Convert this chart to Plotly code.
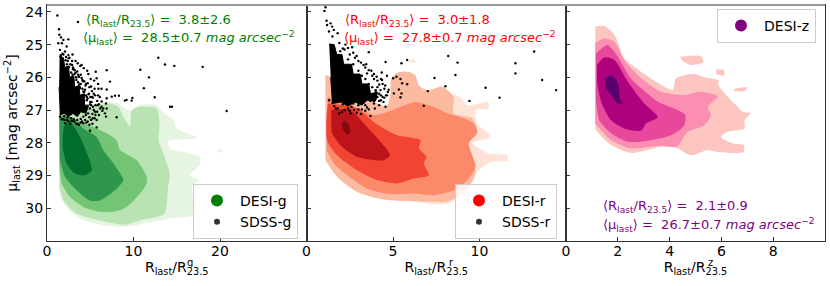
import plotly.graph_objects as go

# ---------- green panel (R_last/R_23.5^g, mu_last) ----------
g1_x = [1.43,4,7.3,8.3,9.3,9.9,10.6,12.7,13.6,14.6,15.0,15.6,17.3,14.0,14.3,16.1,17.7,17.7,16.5,17.7,16.8,17.0,14.6,13.6,11.5,9.0,6.1,4.6,2.9,1.7,1.43,None,19.7,20.2,20.2,19.7]
g1_y = [26.9,26.85,26.75,26.8,27.0,27.0,26.85,26.85,27.1,27.3,27.55,27.65,27.85,27.95,28.2,28.3,28.45,28.65,29.0,29.15,29.3,30.2,30.3,30.35,30.45,30.57,30.5,30.4,30.15,29.75,29.4,None,28.27,28.15,28.28,28.3]
g2_x = [1.43,4.5,7.0,8.25,8.8,9.6,9.8,10.6,12.7,13.0,12.9,13.45,14.2,14.0,13.6,12.7,10.75,9.0,6.1,3.4,1.9,1.43]
g2_y = [26.95,26.95,26.8,26.9,27.2,27.5,27.0,26.9,26.95,27.5,27.92,28.33,28.94,29.35,30.16,30.27,30.37,30.5,30.37,30.16,29.76,29.35]
g3_x = [1.43,3.43,5.74,6.9,8.05,8.44,10.37,11.52,11.52,10.75,9.21,7.67,6.13,4.2,2.66,1.7,1.43]
g3_y = [27.15,27.3,27.56,27.71,27.92,28.22,28.53,29.04,29.24,29.55,29.96,30.11,30.11,29.96,29.65,29.24,28.74]
g4_x = [1.43,2.47,4.2,5.74,6.5,7.67,8.82,8.05,6.13,4.97,3.43,2.08,1.5]
g4_y = [27.2,27.2,27.56,27.82,28.22,28.63,29.14,29.4,29.76,29.76,29.45,29.04,28.53]
g5_x = [2.08,2.85,3.82,4.78,5.16,4.4,3.25,2.27,1.81,1.89]
g5_y = [27.41,27.43,27.82,28.43,28.84,28.99,28.94,28.63,28.12,27.61]
g_dense_x = [1.46,1.9,2.05,2.5,2.6,3.1,3.2,3.7,3.8,4.3,4.35,4.8,4.5,3.9,3.5,3.0,2.5,2.0,1.54,1.4]
g_dense_y = [25.35,25.4,25.7,25.65,26.0,25.95,26.3,26.25,26.55,26.5,26.85,26.85,27.1,27.05,27.2,27.1,27.2,27.1,27.15,26.3]
sdss_g_x = [1.2,3.58,1.39,1.43,1.62,1.89,2.47,1.31,1.73,2.27,1.5,2.08,2.47,3.55,4.0,5.63,6.9,5.74,4.78,7.28,12.87,13.64,14.72,18.0,10.79,11.79,11.2,12.45,14.22,14.45,20.77,
            9.87,9.79,9.2,9.0,7.86,7.48,8.32,6.9,6.9,6.32,6.82,6.5,6.9,6.7,8.05,6.82,5.74,5.74,4.97,6.0,
            1.6,1.9,2.2,2.5,2.9,3.1,1.8,2.4,3.3,3.7,4.1,4.5,3.0,3.5,3.9,4.3,4.9,5.2,5.5,5.9,6.1,3.2,3.6,4.0,4.7,5.1,5.4,5.8,6.3,
            4.4,4.8,5.3,5.6,6.0,6.4,3.8,4.2,4.6,5.0,5.4,5.8,2.0,2.5,3.0,3.4,3.9,4.4,4.9,5.3,1.7,2.1,2.7,3.2,3.7,4.2,4.7,
            2.6,2.9,3.0,2.7,3.2,3.4,3.6,3.9,4.1,4.3,4.5,4.7,4.85,5.0,5.15,5.3,4.95,4.75,4.5,4.2,3.9,3.5,3.1,2.8,2.4,2.0,1.6,1.5,
            1.55,1.7,2.3,2.8,3.4,3.8,4.2,4.6,5.0,5.25,5.6,4.45,4.15,3.75,3.35,2.95,2.55,2.15,
            5.9,5.45,5.05,4.65,4.25,3.85,3.3,2.95,5.2,5.55,5.85,5.95,6.3,6.15,5.5,5.1,4.55,4.05,3.55,2.85,2.3,1.85,4.9,5.25,5.55,4.65,5.1]
sdss_g_y = [24.11,24.31,24.53,24.7,24.78,24.86,24.84,24.96,24.96,25.06,25.16,25.21,25.32,25.57,25.62,25.83,25.78,26.03,25.9,26.13,25.4,25.61,25.65,25.68,25.77,26.0,26.33,26.61,26.9,26.9,27.03,
            26.63,26.71,26.69,26.71,26.56,26.59,26.56,26.37,26.64,26.74,26.8,26.95,26.95,27.1,27.22,27.2,27.3,27.53,27.63,27.15,
            25.32,25.3,25.38,25.42,25.62,25.75,25.28,25.5,25.86,25.98,26.08,26.2,25.7,25.82,25.92,26.12,26.3,26.42,26.35,26.55,26.6,25.78,25.92,26.02,26.18,26.28,26.5,26.72,26.9,
            26.38,26.52,26.62,26.85,26.82,27.02,26.3,26.55,26.7,26.75,27.0,27.05,27.3,27.35,27.33,27.42,27.38,27.3,27.22,27.25,27.28,27.4,27.42,27.35,27.45,27.4,27.35,
            25.4,25.5,25.75,25.6,25.9,26.0,26.15,26.2,26.35,26.45,26.55,26.65,26.5,26.6,26.75,26.9,26.95,27.1,27.15,27.2,27.27,27.3,27.28,27.25,27.22,27.18,27.12,27.2,
            25.36,25.42,25.6,25.85,26.08,26.33,26.43,26.6,26.82,27.12,27.15,26.25,26.12,26.22,26.0,25.92,25.68,25.48,
            26.2,26.1,26.05,25.8,25.72,25.65,25.5,25.3,26.6,26.55,26.85,26.35,26.35,26.95,27.25,27.3,27.38,27.35,27.42,27.33,27.3,27.27,27.45,27.42,27.05,26.9,26.85]

# ---------- red panel ----------
r1_x = [1.1,2,4.6,4.85,4.9,5.3,6.0,6.3,6.5,7.0,8.0,8.32,8.9,9.3,10.5,10.5,9.8,9.87,10.64,9.6,10.54,11.6,11.6,10.6,9.77,9.4,8.7,8.13,7.36,6.4,4.47,2.93,1.77,1.1,None,5.9,6.1,6.4]
r1_y = [25.93,26.1,26.9,26.5,26.05,25.85,25.85,25.95,26.25,26.4,26.45,26.49,26.6,26.85,26.75,26.95,27.0,27.4,27.82,28.0,28.33,28.38,28.55,28.6,28.94,29.35,29.7,29.86,29.88,29.8,29.73,29.5,29.04,28.53,None,25.55,25.45,25.55]
r2_x = [1.1,2,4.6,4.85,4.9,5.3,6.0,6.3,6.5,7.0,7.84,8.5,8.5,9.58,9.77,9.29,9.48,9.77,9.38,8.7,8.13,7.36,6.4,4.47,2.93,1.77,1.1]
r2_y = [25.93,26.1,26.9,26.5,26.05,25.85,25.85,25.95,26.25,26.4,26.28,26.6,27.1,27.25,27.5,27.82,28.22,28.94,29.35,29.65,29.8,29.8,29.79,29.73,29.5,29.04,28.53]
r3_x = [1.23,3.03,3.89,4.47,5.43,6.3,7.36,8.13,9.1,9.77,9.86,9.38,9.77,9.29,8.52,7.36,6.2,4.86,3.5,2.35,1.58,1.16]
r3_y = [26.6,26.95,27.15,27.1,26.9,26.75,26.9,27.1,27.25,27.46,27.71,28.02,28.73,29.14,29.45,29.6,29.55,29.57,29.4,28.99,28.63,28.22]
r4_x = [1.23,2.93,4.0,5.24,6.0,6.59,6.5,6.94,6.78,7.07,6.2,5.24,4.08,2.93,1.77,1.19,1.16]
r4_y = [26.8,26.95,27.41,27.77,27.84,27.92,28.17,28.43,28.63,28.99,29.09,29.24,29.14,28.84,28.38,27.92,27.2]
r5_x = [1.43,2.54,3.31,4.28,4.82,4.47,2.93,2.06,1.48,1.43]
r5_y = [27.0,27.0,27.41,27.97,28.38,28.53,28.43,28.12,27.71,27.3]
r6_x = [2.25,2.45,2.54,2.35,2.12,2.02]
r6_y = [27.31,27.46,27.69,27.74,27.61,27.41]
r_dense_x = [1.31,1.6,1.75,2.05,2.15,2.6,2.7,3.1,3.2,3.6,3.7,4.1,4.0,3.5,3.2,2.8,2.4,2.0,1.5,1.4]
r_dense_y = [24.98,25.0,25.3,25.3,25.6,25.6,25.9,25.9,26.2,26.2,26.5,26.45,26.72,26.7,26.85,26.75,26.88,26.75,26.8,26.0]
sdss_r_x = [1.1,1.04,1.16,1.19,1.39,1.48,1.58,1.3,1.5,1.8,1.9,13.16,12.08,12.08,13.62,14.43,11.16,10.35,9.42,8.73,8.19,8.61,8.03,7.4,7.01,6.78,5.82,5.49,4.57,3.6,2.64,5.01,5.2,5.43,5.53,5.82,5.34,5.49,5.05,5.43,4.57,4.37,4.28,3.7,
            2.2,2.5,2.8,3.0,3.3,3.6,3.9,2.4,2.7,3.4,3.8,4.1,4.4,3.5,3.9,4.2,4.5,4.7,4.3,4.0,3.7,3.3,3.0,2.6,2.2,1.8,1.5,4.1,4.5,4.2,3.9,3.5,3.2,2.9,2.5,2.1,1.6,1.3,1.9,2.3,2.7,3.1,3.4,4.4,4.6,4.0,3.6,
            2.4,2.7,3.0,3.2,3.4,3.6,3.8,4.0,4.2,4.3,4.1,3.9,3.6,3.3,3.0,2.7,2.4,2.1,1.8,1.55,
            2.9,3.15,3.45,3.75,4.05,4.3,4.55,4.75,4.65,4.45,4.2,3.95,3.6,3.4,3.0,2.75,2.4,2.05,1.7,2.55,3.15,2.25,2.1,1.95,4.35,4.65]
sdss_r_y = [23.86,23.97,24.27,24.4,24.35,24.45,24.55,24.6,24.75,24.65,24.95,25.21,25.57,25.88,26.08,26.39,26.62,26.32,26.72,25.55,25.35,25.93,26.27,26.02,26.42,26.87,25.47,25.57,25.53,25.23,25.08,26.03,25.98,26.05,26.18,26.21,26.37,26.49,26.49,26.61,26.9,26.08,26.39,27.18,
            25.15,25.3,25.4,25.5,25.62,25.78,25.9,25.1,25.25,25.7,25.95,26.1,26.2,25.88,26.05,26.22,26.35,26.45,26.55,26.62,26.72,26.78,26.85,26.9,27.0,26.95,26.78,26.3,26.62,26.72,26.8,26.92,26.98,27.08,27.02,26.82,26.88,26.7,27.1,26.82,26.75,26.72,26.85,26.6,26.55,26.4,26.5,
            25.45,25.6,25.8,25.95,26.05,26.2,26.3,26.4,26.5,26.7,26.6,26.72,26.65,26.72,26.75,26.8,26.75,26.72,26.7,26.68,
            25.35,25.55,25.6,25.8,25.98,26.05,26.25,26.38,26.55,26.75,26.85,26.95,26.98,27.02,26.98,27.0,26.95,27.05,26.95,27.1,27.12,25.0,25.12,25.2,25.85,25.95]

# ---------- magenta panel ----------
p1_x = [1.13,1.48,1.87,2.25,2.9,3.67,4.12,4.25,4.95,5.34,5.9,5.86,6.24,6.63,6.82,7.12,6.89,6.89,6.24,5.98,6.44,6.86,6.86,5.85,5.47,4.83,4.18,3.67,2.51,1.74,1.13,None,4.4,5.2,5.3,4.8,4.5,None,5.8,6.1,6.1,5.8,None,6.5,7.0,6.9,6.5]
p1_y = [24.45,24.43,24.7,25.42,25.83,26.23,26.39,26.03,25.9,26.0,26.1,26.2,26.59,26.9,27.05,27.1,27.31,27.56,27.66,27.82,28.02,28.07,28.28,28.28,28.22,28.38,28.12,28.12,28.31,28.07,27.59,None,25.37,25.35,25.55,25.62,25.5,None,25.75,25.78,25.95,25.9,None,26.35,26.3,26.42,26.42]
p2_x = [1.13,1.48,1.87,2.25,2.9,3.67,4.57,5.21,5.86,5.47,5.6,5.34,4.7,4.44,4.3,3.54,2.51,1.74,1.13]
p2_y = [24.94,24.81,24.91,25.47,26.03,26.44,26.54,26.44,26.59,26.9,27.15,27.46,27.66,27.97,28.12,28.1,28.17,27.92,27.41]
p3_x = [1.16,1.6,2.0,2.5,3.54,4.31,4.6,4.57,4.05,3.28,2.38,1.74,1.29,1.16]
p3_y = [25.27,25.01,25.37,26.03,26.74,27.0,27.15,27.46,27.77,27.92,27.97,27.71,27.31,26.69]
p4_x = [1.2,1.48,1.87,2.38,3.02,3.54,3.09,2.9,2.25,1.74,1.38,1.2]
p4_y = [25.62,25.39,25.47,26.13,26.8,27.22,27.41,27.63,27.56,27.31,26.8,26.18]
p5_x = [1.51,1.71,1.93,2.06,2.06,2.19,2.0,1.74,1.54]
p5_y = [26.08,25.94,26.06,26.34,26.64,26.8,26.8,26.54,26.34]

green_levels = [(g1_x,g1_y,"#e6f5e1"),(g2_x,g2_y,"#b9e3b2"),(g3_x,g3_y,"#74c476"),(g4_x,g4_y,"#2f964d"),(g5_x,g5_y,"#006d2c")]
red_levels = [(r1_x,r1_y,"#fee2d6"),(r2_x,r2_y,"#fcbba1"),(r3_x,r3_y,"#fc8a6a"),(r4_x,r4_y,"#f14432"),(r5_x,r5_y,"#bc141a"),(r6_x,r6_y,"#860811")]
pink_levels = [(p1_x,p1_y,"#fcc5c0"),(p2_x,p2_y,"#fa8fb1"),(p3_x,p3_y,"#e7489b"),(p4_x,p4_y,"#ae017e"),(p5_x,p5_y,"#5a006e")]

fig = go.Figure()
FS = 14

def levels(levs, ax):
    for x, y, c in levs:
        fig.add_trace(go.Scatter(x=x, y=y, xaxis=f"x{ax}" if ax > 1 else "x", yaxis=f"y{ax}" if ax > 1 else "y",
                                 mode="lines", line=dict(width=0, color=c, shape="spline", smoothing=0.7), fill="toself", fillcolor=c,
                                 hoverinfo="skip", showlegend=False))

def cloud(dx, dy, px, py, ax):
    xa = f"x{ax}" if ax > 1 else "x"
    ya = f"y{ax}" if ax > 1 else "y"
    fig.add_trace(go.Scatter(x=dx, y=dy, xaxis=xa, yaxis=ya, mode="lines", line=dict(width=1, color="black"),
                             fill="toself", fillcolor="black", hoverinfo="skip", showlegend=False))
    fig.add_trace(go.Scatter(x=px, y=py, xaxis=xa, yaxis=ya, mode="markers",
                             marker=dict(size=2.4, color="black", line=dict(width=0)), hoverinfo="skip", showlegend=False))

def key(name, color, size, legend):
    fig.add_trace(go.Scatter(x=[None], y=[None], mode="markers", name=name, legend=legend,
                             marker=dict(size=size, color=color, line=dict(width=0)), showlegend=True))

levels(green_levels, 1)
cloud(g_dense_x, g_dense_y, sdss_g_x, sdss_g_y, 1)
levels(red_levels, 2)
cloud(r_dense_x, r_dense_y, sdss_r_x, sdss_r_y, 2)
levels(pink_levels, 3)
key("DESI-g", "green", 12, "legend")
key("SDSS-g", "#333333", 6, "legend")
key("DESI-r", "red", 12, "legend2")
key("SDSS-r", "#333333", 6, "legend2")
key("DESI-z", "purple", 12, "legend3")

W, H = 830, 286
L, R, T, B = 47, 5, 5, 45
pw = W - L - R
ph = H - T - B
dom = [(0, 259.5/pw), (259.5/pw, 519/pw), (519/pw, 1)]

def legend_cfg(x0, y0):
    return dict(x=(x0-L)/pw, y=1-(y0-T)/ph, xanchor="left", yanchor="top",
                bgcolor="rgba(255,255,255,0.8)", bordercolor="#cccccc", borderwidth=1,
                font=dict(size=FS, color="black"), itemsizing="trace", itemwidth=36,
                entrywidth=58, entrywidthmode="pixels", tracegroupgap=0)

axis_common = dict(showgrid=False, zeroline=False, showline=True, linecolor="#333333", linewidth=1,
                   ticks="inside", ticklen=4, tickcolor="#333333", mirror=True,
                   tickfont=dict(size=FS, color="black"))
xt = "R<sub>last</sub>/R<sub>23.5</sub>"
layout = dict(width=W, height=H, margin=dict(l=L, r=R, t=T, b=B), paper_bgcolor="white", plot_bgcolor="white",
              font=dict(family="DejaVu Sans", size=FS, color="black"),
              legend=legend_cfg(193, 184), legend2=legend_cfg(455, 184), legend3=legend_cfg(717, 9))
xticks = [[0, 10, 20], [0, 5, 10], [0, 2, 4, 6, 8]]
xrange_ = [[0, 30], [0, 15], [0, 10]]
for i in range(3):
    s = "" if i == 0 else str(i+1)
    layout[f"xaxis{s}"] = dict(axis_common, domain=dom[i], range=xrange_[i], tickvals=xticks[i], anchor=f"y{s}",
                               ticklabelstandoff=-3,
                               title=dict(text=xt, standoff=4, font=dict(size=FS)))
    layout[f"yaxis{s}"] = dict(axis_common, domain=[0, 1], range=[31.0, 23.79], tickvals=[24, 25, 26, 27, 28, 29, 30],
                               anchor=f"x{s}", showticklabels=(i == 0))
layout["yaxis"]["title"] = dict(text="μ<sub>last</sub> [mag arcsec<sup>−2</sup>]", standoff=4, font=dict(size=FS))
fig.update_layout(**layout)

def note(text, ax, fx, fy, color):
    s = "" if ax == 1 else str(ax)
    fig.add_annotation(text=text, xref=f"x{s} domain", yref=f"y{s} domain", x=fx, y=fy, xanchor="left", yanchor="middle",
                       showarrow=False, font=dict(size=13, color=color))

def stats(r, rs, m, ms):
    return (f"⟨R<sub>last</sub>/R<sub>23.5</sub>⟩ =\u00a0 {r}±{rs}",
            f"⟨μ<sub>last</sub>⟩ =\u00a0 {m}±{ms} <i>mag arcsec</i><sup>−2</sup>")

a, b = stats(3.8, 2.6, 28.5, 0.7)
note(a, 1, .142, .936, "green"); note(b, 1, .131, .86, "green")
a, b = stats(3.0, 1.8, 27.8, 0.7)
note(a, 2, .142, .936, "red"); note(b, 2, .138, .86, "red")
a, b = stats(2.1, 0.9, 26.7, 0.7)
note(a, 3, .136, .148, "purple"); note(b, 3, .136, .068, "purple")

# band superscripts stacked over the 23.5 subscript
for band, px in [("g", 190), ("r", 451), ("z", 710)]:
    fig.add_annotation(text=band, xref="paper", yref="paper", x=(px-L)/pw, y=-(262-T-ph)/ph, xanchor="center", yanchor="middle",
                       showarrow=False, font=dict(size=10, color="black"))

# clipped top frame
fig.add_shape(type="line", xref="paper", yref="paper", x0=0, x1=1, y0=1, y1=1, line=dict(color="#999999", width=2))

fig.write_html("out.html", post_script="document.body.style.margin='0';", config=dict(displayModeBar=False))
